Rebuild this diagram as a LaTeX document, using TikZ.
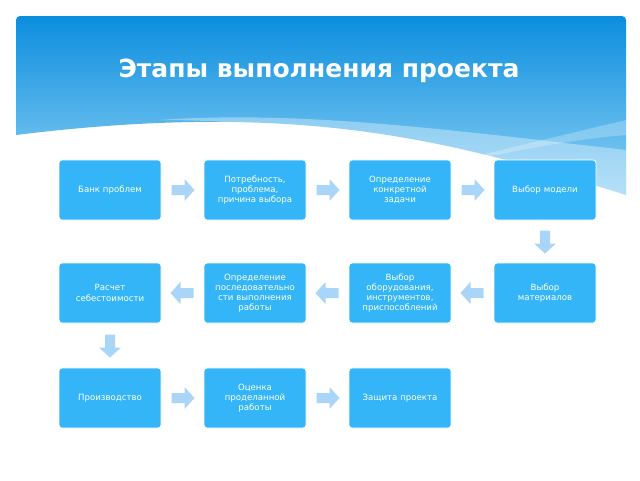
\documentclass[tikz,border=0pt]{standalone}
\usepackage{fontspec}
\setmainfont{DejaVu Sans}
\usetikzlibrary{calc}
\definecolor{boxc}{HTML}{33B5F7}
\definecolor{arrc}{HTML}{A9D6F8}
\definecolor{topc}{HTML}{0B8EDE}
\definecolor{midc}{HTML}{5DBDF0}
\tikzset{x=1pt,y=-1pt,
 stage/.style={fill=boxc,draw=white,line width=0.8pt,rounded corners=3pt,minimum width=102pt,minimum height=60pt,text width=88pt,align=center,font=\fontsize{8.6}{10.2}\selectfont,text=white}}
\begin{document}
\begin{tikzpicture}
\useasboundingbox (0,0) rectangle (640,480);
\fill[white] (0,0) rectangle (640,480);
\begin{scope}
\clip[rounded corners=4pt] (16,16) rectangle (626,300);
\shade[top color=topc,bottom color=midc!70!white] (16,16) -- (626,16) -- (626,195) .. controls (450,140) and (300,100) .. (16,135) -- cycle;
\fill[white,opacity=0.35] (626,150) .. controls (450,130) and (300,110) .. (160,120) .. controls (350,120) and (500,170) .. (626,195) -- cycle;
\fill[white,opacity=0.25] (626,120) .. controls (500,150) and (420,170) .. (380,180) .. controls (470,160) and (560,140) .. (626,135) -- cycle;
\end{scope}
\node[text=white,font=\bfseries\fontsize{25}{28}\selectfont] (title) at (319,71) {Этапы выполнения проекта};
\node[stage] (a1) at (110,190) {Банк проблем};
\node[stage] (a2) at (255,190) {Потребность, проблема, причина выбора};
\node[stage] (a3) at (400,190) {Определение конкретной задачи};
\node[stage] (a4) at (545,190) {Выбор модели};
\node[stage] (b4) at (545,293) {Выбор\\материалов};
\node[stage] (b3) at (400,293) {Выбор оборудования, инструментов, приспособлений};
\node[stage] (b2) at (255,293) {Определение последовательно\\сти выполнения работы};
\node[stage] (b1) at (110,293) {Расчет себестоимости};
\node[stage] (c1) at (110,398) {Производство};
\node[stage] (c2) at (255,398) {Оценка проделанной работы};
\node[stage] (c3) at (400,398) {Защита проекта};
\foreach \p/\q in {a1/a2,a2/a3,a3/a4,c1/c2,c2/c3}{
 \fill[arrc] ($(\p.east)!0.5!(\q.west)+(-11,-5)$) -- ++(13,0) -- ++(0,-6) -- ++(10,11) -- ++(-10,11) -- ++(0,-6) -- ++(-13,0) -- cycle;}
\foreach \p/\q in {b4/b3,b3/b2,b2/b1}{
 \fill[arrc] ($(\p.west)!0.5!(\q.east)+(11,-5)$) -- ++(-13,0) -- ++(0,-6) -- ++(-10,11) -- ++(10,11) -- ++(0,-6) -- ++(13,0) -- cycle;}
\foreach \p/\q in {a4/b4,b1/c1}{
 \fill[arrc] ($(\p.south)!0.5!(\q.north)+(-5,-11)$) -- ++(0,13) -- ++(-6,0) -- ++(11,10) -- ++(11,-10) -- ++(-6,0) -- ++(0,-13) -- cycle;}
\end{tikzpicture}
\end{document}
